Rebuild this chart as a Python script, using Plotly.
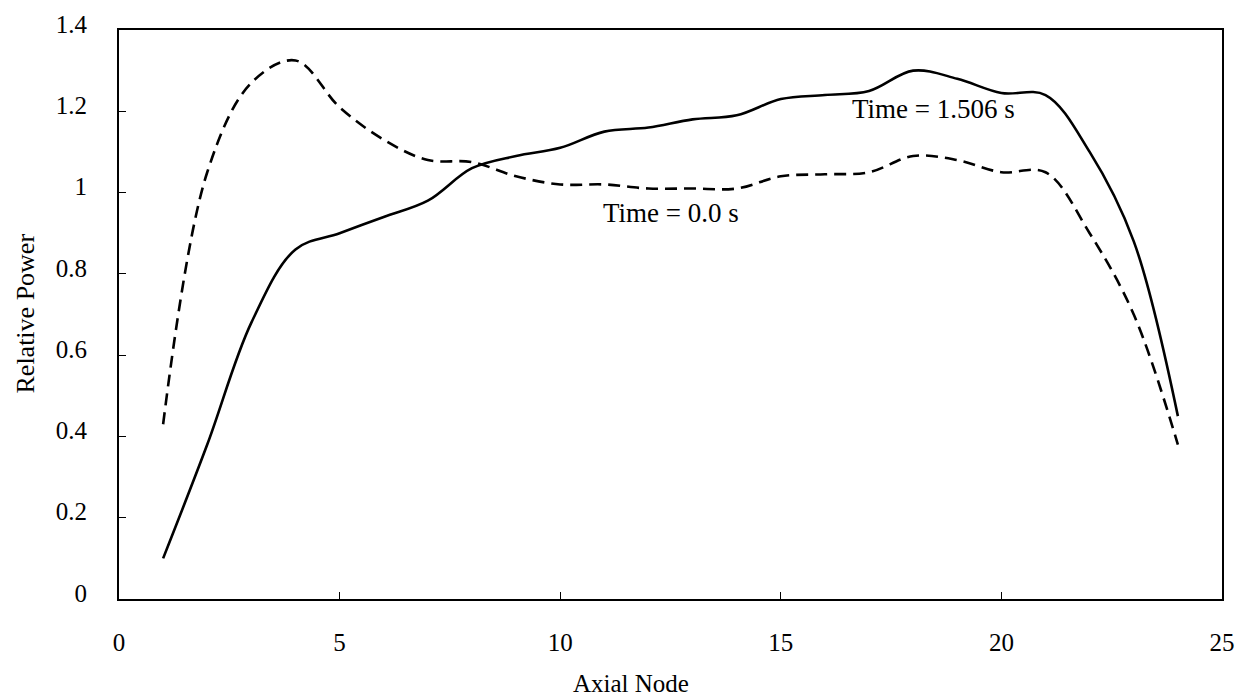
import plotly.graph_objects as go

nodes = list(range(1, 25))
power_t1506 = [0.10, 0.38, 0.68, 0.86, 0.90, 0.94, 0.98, 1.06, 1.09, 1.11, 1.15, 1.16,
               1.18, 1.19, 1.23, 1.24, 1.25, 1.30, 1.28, 1.245, 1.24, 1.10, 0.88, 0.45]
power_t0 = [0.43, 1.05, 1.27, 1.325, 1.21, 1.13, 1.08, 1.075, 1.04, 1.02, 1.02, 1.01,
            1.01, 1.01, 1.04, 1.045, 1.05, 1.09, 1.08, 1.05, 1.05, 0.90, 0.70, 0.38]

x_ticks = [0, 5, 10, 15, 20, 25]
y_ticks = [0, 0.2, 0.4, 0.6, 0.8, 1.0, 1.2, 1.4]
y_ticklabels = ["0", "0.2", "0.4", "0.6", "0.8", "1", "1.2", "1.4"]

FONT = "Liberation Serif, Times New Roman, serif"

fig = go.Figure()
fig.add_trace(go.Scatter(x=nodes, y=power_t0, mode="lines", line_shape="spline",
                         line=dict(color="black", width=2.6, dash="12px,7px"),
                         name="Time = 0.0 s", showlegend=False))
fig.add_trace(go.Scatter(x=nodes, y=power_t1506, mode="lines", line_shape="spline",
                         line=dict(color="black", width=2.6),
                         name="Time = 1.506 s", showlegend=False))

fig.add_annotation(x=12.5, y=0.95, text="Time = 0.0 s", showarrow=False,
                   font=dict(family=FONT, size=27, color="black"))
fig.add_annotation(x=18.45, y=1.205, text="Time = 1.506 s", showarrow=False,
                   font=dict(family=FONT, size=27, color="black"))

# axis titles
fig.add_annotation(xref="paper", yref="paper", x=0.464, y=0, yshift=-84,
                   text="Axial Node", showarrow=False, yanchor="middle",
                   font=dict(family=FONT, size=25, color="black"))
fig.add_annotation(xref="paper", yref="paper", x=0, xshift=-94, y=0.5, yshift=1,
                   text="Relative Power", showarrow=False, textangle=-90,
                   xanchor="center", font=dict(family=FONT, size=26, color="black"))

fig.update_layout(
    width=1243, height=697,
    margin=dict(l=119, r=21, t=30, b=98),
    paper_bgcolor="white", plot_bgcolor="white",
    font=dict(family=FONT, size=25, color="black"),
    xaxis=dict(range=[0, 25], tickvals=x_ticks, showgrid=False, zeroline=False,
               showline=True, linecolor="black", linewidth=2, mirror=True,
               ticks="inside", ticklen=7, tickcolor="black", ticklabelstandoff=20,
               tickfont=dict(family=FONT, size=25), automargin=False),
    yaxis=dict(range=[0, 1.4], tickvals=y_ticks, ticktext=y_ticklabels, showgrid=False,
               zeroline=False, showline=True, linecolor="black", linewidth=2, mirror=True,
               ticks="inside", ticklen=7, tickcolor="black", ticklabelstandoff=25,
               ticklabelshift=-6,
               tickfont=dict(family=FONT, size=25), automargin=False),
)

fig.write_html("out.html", config={"displayModeBar": False},
               post_script="document.body.style.margin='0';")
